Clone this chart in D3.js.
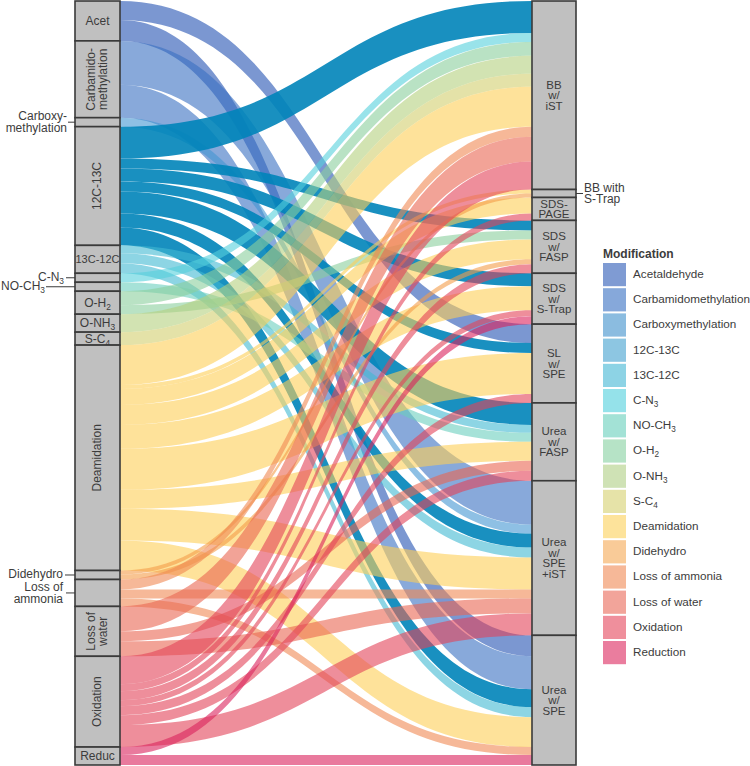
<!DOCTYPE html>
<html>
<head>
<meta charset="utf-8">
<script src="https://cdn.jsdelivr.net/npm/d3@7"></script>
<style>
  body { margin: 0; background: #fff; }
  text { font-family: "Liberation Sans", Arial, sans-serif; fill: #3c3c3c; }
</style>
</head>
<body>
<div id="chart"></div>
<script>
// modifications (left axis) and sample preparation methods (right axis)
const modifications = ["Acetaldehyde", "Carbamidomethylation", "Carboxymethylation", "12C-13C", "13C-12C",
  "C-N_3", "NO-CH_3", "O-H_2", "O-NH_3", "S-C_4", "Deamidation", "Didehydro", "Loss of ammonia",
  "Loss of water", "Oxidation", "Reduction"];
const methods = ["BB w/ iST", "BB with S-Trap", "SDS-PAGE", "SDS w/ FASP", "SDS w/ S-Trap",
  "SL w/ SPE", "Urea w/ FASP", "Urea w/ SPE +iST", "Urea w/ SPE"];

// flow size, one row per modification, one column per method
const counts = [
  [ 0, 0,  0,  0,  0, 19,  0,  0, 21],
  [ 0, 0,  0,  0,  0,  0,  0, 44, 33],
  [ 0, 0,  0,  0,  0,  0,  0,  9,  0],
  [32, 0,  0, 10, 13, 10, 22, 14, 18],
  [ 0, 0,  0,  0,  0,  0,  8, 10, 10],
  [ 9, 0,  0,  0,  0,  0,  0,  0,  0],
  [ 0, 0,  0,  0,  0,  0,  9,  0,  0],
  [14, 0,  0,  9,  0,  0,  0,  0,  0],
  [18, 0,  0,  0,  0,  0,  0,  0,  0],
  [13, 0,  0,  0,  0,  0,  0,  0,  0],
  [40, 4, 16, 20, 24, 41, 19, 32, 30],
  [ 0, 4,  0,  5,  0,  0,  0,  0,  0],
  [10, 0,  0,  0,  0,  0,  0,  9,  8],
  [25, 0,  0,  0,  0,  0, 10, 15,  0],
  [28, 0,  7,  9,  6,  9, 10, 22,  0],
  [ 0, 0,  0,  0,  8,  0,  0,  0, 10]
];

// stratum labels
const leftLabels = [["Acet"], ["Carbamido-", "methylation"], ["Carboxy-", "methylation"], ["12C-13C"], ["13C-12C"],
  ["C-N_3"], ["NO-CH_3"], ["O-H_2"], ["O-NH_3"], ["S-C_4"], ["Deamidation"], ["Didehydro"], ["Loss of", "ammonia"],
  ["Loss of", "water"], ["Oxidation"], ["Reduc"]];
const leftMode = ["h", "v", "out", "v", "h", "out", "out", "h", "h", "h", "v", "out", "out", "v", "v", "h"];
const rightLabels = [["BB", "w/", "iST"], ["BB with", "S-Trap"], ["SDS-", "PAGE"], ["SDS", "w/", "FASP"],
  ["SDS", "w/", "S-Trap"], ["SL", "w/", "SPE"], ["Urea", "w/", "FASP"], ["Urea", "w/", "SPE", "+iST"], ["Urea", "w/", "SPE"]];

const flowColors = ["#2352b2", "#3970c1", "#4396d2", "#0084b9", "#41b9d2", "#55d0dc", "#6bcfbe", "#8acf9d",
  "#b4d17f", "#d2cf6e", "#fdcf57", "#f39d49", "#f08953", "#e96652", "#e34359", "#da215c"];
const keyColors = ["#7f9bd3", "#86a8da", "#8bbce0", "#8dc6e2", "#8dd3e5", "#95e2ea", "#a3e2d6", "#b6e3c6",
  "#cfe2b5", "#e6e3a8", "#fde39b", "#f9cb98", "#f6b898", "#f2a49a", "#ef8f9c", "#ea7d9e"];

const W = 750, H = 766;
const lx0 = 75, lx1 = 120, rx0 = 532, rx1 = 576;

const svg = d3.select("#chart").append("svg").attr("width", W).attr("height", H);

const total = d3.sum(counts.flat());
const y = d3.scaleLinear().domain([0, total]).range([1, 765]);

// stratum extents
const srcTot = counts.map(r => d3.sum(r));
const tgtTot = methods.map((m, j) => d3.sum(counts, r => r[j]));
const srcStart = d3.cumsum([0].concat(srcTot)).slice(0, -1);
const tgtStart = d3.cumsum([0].concat(tgtTot)).slice(0, -1);

// flows: ordered by target inside each source, by source inside each target
const flows = [];
const tgtOff = tgtStart.slice();
const srcOff = srcStart.slice();
counts.forEach((row, i) => row.forEach((v, j) => {
  if (v > 0) flows.push({ s: i, t: j, v: v });
}));
flows.forEach(f => { f.y0 = srcOff[f.s]; srcOff[f.s] += f.v; });
flows.slice().sort((a, b) => a.t - b.t || a.s - b.s).forEach(f => { f.y1 = tgtOff[f.t]; tgtOff[f.t] += f.v; });

function band(f) {
  const a0 = y(f.y0), a1 = y(f.y0 + f.v), b0 = y(f.y1), b1 = y(f.y1 + f.v);
  const xm = (lx1 + rx0) / 2;
  return `M${lx1},${a0}C${xm},${a0} ${xm},${b0} ${rx0},${b0}L${rx0},${b1}C${xm},${b1} ${xm},${a1} ${lx1},${a1}Z`;
}

svg.append("g").selectAll("path")
  .data(flows)
  .enter()
  .append("path")
    .attr("d", band)
    .attr("fill", d => flowColors[d.s])
    .attr("fill-opacity", d => d.s === 3 ? 0.9 : 0.6);

// text with "_n" subscripts
function label(g, str, x, yy, opts) {
  const t = g.append("text").attr("x", x).attr("y", yy)
    .attr("text-anchor", opts.anchor || "middle")
    .attr("font-size", opts.size || 12);
  if (opts.rotate) t.attr("transform", `rotate(-90,${x},${yy})`);
  if (opts.bold) t.attr("font-weight", "bold");
  const parts = str.split(/_(\d)/);
  parts.forEach((p, k) => {
    if (p === "") return;
    if (k % 2 === 1) {
      t.append("tspan").attr("dy", 3).attr("font-size", (opts.size || 12) * 0.7).text(p);
    } else {
      const sp = t.append("tspan").text(p);
      if (k > 0) sp.attr("dy", -3);
    }
  });
  return t;
}

const strata = svg.append("g");

// left strata
modifications.forEach((m, i) => {
  const top = y(srcStart[i]), bot = y(srcStart[i] + srcTot[i]), cy = (top + bot) / 2;
  strata.append("rect").attr("x", lx0).attr("y", top).attr("width", lx1 - lx0).attr("height", bot - top)
    .attr("fill", "#c0c0c0").attr("stroke", "#3a3a3a").attr("stroke-width", 1.6);
  const lines = leftLabels[i], cx = (lx0 + lx1) / 2;
  if (leftMode[i] === "h") {
    label(strata, lines[0], cx, cy + 4, { size: i === 4 ? 11 : 12 });
  } else if (leftMode[i] === "v") {
    lines.forEach((l, k) => {
      const off = (k - (lines.length - 1) / 2) * 12;
      label(strata, l, cx + off + 4, cy, { rotate: true });
    });
  }
});

// left labels outside the narrow strata, with leader lines
const outSpec = {
  2: { x: 67, line: [68, 75] },
  5: { x: 64, line: [66, 75] },
  6: { x: 45, line: [46, 75] },
  11: { x: 63, line: [65, 75] },
  12: { x: 63, line: [66, 75] }
};
Object.keys(outSpec).forEach(k => {
  const i = +k, o = outSpec[k];
  const cy = y(srcStart[i] + srcTot[i] / 2);
  const lines = leftLabels[i];
  lines.forEach((l, n) => {
    const off = (n - (lines.length - 1) / 2) * 12.5;
    label(strata, l, o.x, cy + off + 4 + (lines.length === 1 ? -1 : 0), { anchor: "end" });
  });
  strata.append("line").attr("x1", o.line[0]).attr("x2", o.line[1]).attr("y1", cy).attr("y2", cy)
    .attr("stroke", "#3a3a3a").attr("stroke-width", 1);
});

// right strata
methods.forEach((m, j) => {
  const top = y(tgtStart[j]), bot = y(tgtStart[j] + tgtTot[j]), cy = (top + bot) / 2;
  strata.append("rect").attr("x", rx0).attr("y", top).attr("width", rx1 - rx0).attr("height", bot - top)
    .attr("fill", "#c0c0c0").attr("stroke", "#3a3a3a").attr("stroke-width", 1.6);
  const lines = rightLabels[j];
  if (j === 1) {
    lines.forEach((l, n) => {
      label(strata, l, 584, cy + (n - 0.5) * 11 + 4, { anchor: "start" });
    });
    strata.append("line").attr("x1", rx1).attr("x2", 583).attr("y1", cy).attr("y2", cy)
      .attr("stroke", "#3a3a3a").attr("stroke-width", 1);
  } else {
    lines.forEach((l, n) => {
      const off = (n - (lines.length - 1) / 2) * 10.5;
      label(strata, l, (rx0 + rx1) / 2, cy + off + 4, { size: 11.5 });
    });
  }
});

// legend
const legend = svg.append("g");
label(legend, "Modification", 603, 258, { anchor: "start", bold: true, size: 12 });
modifications.forEach((m, i) => {
  const ky = 263 + i * 25.2;
  legend.append("rect").attr("x", 603).attr("y", ky).attr("width", 23).attr("height", 23.2)
    .attr("fill", keyColors[i]);
  label(legend, m, 633, ky + 15, { anchor: "start", size: 11.7 });
});
</script>
</body>
</html>
